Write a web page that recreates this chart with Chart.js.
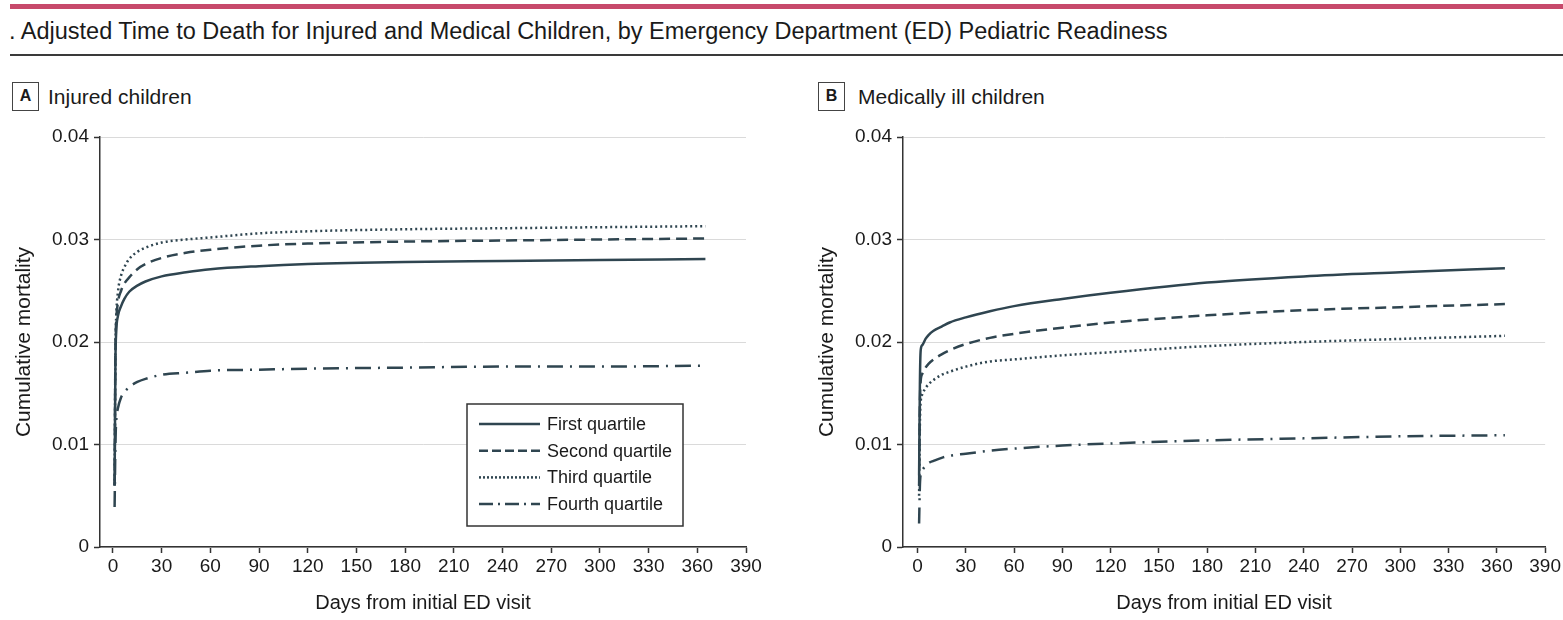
<!DOCTYPE html>
<html>
<head>
<meta charset="utf-8">
<script src="https://cdn.jsdelivr.net/npm/chart.js@4.4.1/dist/chart.umd.min.js"></script>
<style>
  body { margin: 0; width: 1563px; height: 620px; overflow: hidden; background: #fff; position: relative;
         font-family: "Liberation Sans", Arial, sans-serif; color: #1a1a1a; }
  #topbar { position: absolute; left: 10px; top: 4px; width: 1553px; height: 5px; background: #c7496b; }
  #title { position: absolute; left: 9px; top: 17px; font-size: 23.5px; line-height: 28px; white-space: nowrap; }
  #rule { position: absolute; left: 10px; top: 54px; width: 1553px; height: 2px; background: #3a3a3a; }
  .tag { position: absolute; top: 82px; width: 27px; height: 29px; box-sizing: border-box; border: 1.5px solid #444;
         font-weight: bold; font-size: 16px; line-height: 26px; text-align: center; }
  .panel-name { position: absolute; top: 83px; font-size: 21px; line-height: 27px; white-space: nowrap; }
  .chart-box { position: absolute; top: 115px; height: 505px; }
</style>
</head>
<body>
<div id="topbar"></div>
<div id="title">. Adjusted Time to Death for Injured and Medical Children, by Emergency Department (ED) Pediatric Readiness</div>
<div id="rule"></div>

<div class="tag" style="left:12px">A</div>
<div class="panel-name" style="left:48px">Injured children</div>
<div class="tag" style="left:818px">B</div>
<div class="panel-name" style="left:858px">Medically ill children</div>

<div class="chart-box" style="left:0px; width:780px"><canvas id="injured_chart" width="780" height="505"></canvas></div>
<div class="chart-box" style="left:803px; width:760px"><canvas id="medical_chart" width="760" height="505"></canvas></div>

<script>
const days = [1, 1.5, 2, 3, 5, 7, 10, 15, 20, 30, 45, 60, 90, 120, 180, 240, 300, 365];

// panel A - injured children (cumulative mortality)
const injuredQ1 = [0.006, 0.018, 0.021, 0.0225, 0.0235, 0.0242, 0.0249, 0.0255, 0.0259, 0.0264, 0.0268, 0.0271, 0.0274, 0.0276, 0.0278, 0.0279, 0.0280, 0.0281];
const injuredQ2 = [0.006, 0.019, 0.022, 0.0238, 0.0250, 0.0257, 0.0263, 0.0271, 0.0276, 0.0282, 0.0287, 0.0290, 0.0294, 0.0296, 0.0298, 0.0299, 0.0300, 0.0301];
const injuredQ3 = [0.006, 0.019, 0.0225, 0.0248, 0.0265, 0.0273, 0.0281, 0.0288, 0.0292, 0.0297, 0.0300, 0.0302, 0.0306, 0.0308, 0.0310, 0.0311, 0.0312, 0.0313];
const injuredQ4 = [0.0039, 0.010, 0.0123, 0.0135, 0.0146, 0.0151, 0.0156, 0.0161, 0.0164, 0.0168, 0.0170, 0.0172, 0.0173, 0.0174, 0.0175, 0.0176, 0.0176, 0.0177];

// panel B - medically ill children
const medicalQ1 = [0.007, 0.016, 0.0192, 0.0197, 0.0203, 0.0207, 0.0211, 0.0215, 0.0219, 0.0224, 0.0230, 0.0235, 0.0242, 0.0248, 0.0258, 0.0264, 0.0268, 0.0272];
const medicalQ2 = [0.006, 0.014, 0.0162, 0.0169, 0.0175, 0.0179, 0.0183, 0.0188, 0.0192, 0.0198, 0.0204, 0.0208, 0.0214, 0.0219, 0.0226, 0.0231, 0.0234, 0.0237];
const medicalQ3 = [0.005, 0.012, 0.0142, 0.0149, 0.0155, 0.0159, 0.0163, 0.0168, 0.0171, 0.0176, 0.0181, 0.0183, 0.0187, 0.0190, 0.0196, 0.0200, 0.0203, 0.0206];
const medicalQ4 = [0.0023, 0.006, 0.0071, 0.0075, 0.0079, 0.0082, 0.0084, 0.0087, 0.0089, 0.0091, 0.0094, 0.0096, 0.0099, 0.0101, 0.0104, 0.0106, 0.0108, 0.0109];

const quartileLabels = ['First quartile', 'Second quartile', 'Third quartile', 'Fourth quartile'];
const xTicks = [0, 30, 60, 90, 120, 150, 180, 210, 240, 270, 300, 330, 360, 390];
const yTicks = [0, 0.01, 0.02, 0.03, 0.04];

const lineColor = '#2f4550';
const textColor = '#1a1a1a';
const plotDashes = [[], [11, 6], [2, 3], [16, 7, 2, 7]];
const legendDashes = [[], [9, 4], [2, 2], [14, 5, 2, 5]];

Chart.defaults.font.family = '"Liberation Sans", Arial, sans-serif';
Chart.defaults.color = textColor;

// legend box drawn inside the plot area (panel A only)
const boxLegend = {
    id: 'boxLegend',
    afterDraw(chart, args, opts) {
        if (!opts.show) return;
        const ctx = chart.ctx;
        const area = chart.chartArea;
        const left = area.left + 367;
        const top = area.top + 267;
        ctx.save();
        ctx.fillStyle = '#fff';
        ctx.fillRect(left, top, 216, 122);
        ctx.strokeStyle = '#333';
        ctx.lineWidth = 1.5;
        ctx.strokeRect(left, top, 216, 122);
        chart.data.datasets.forEach((ds, i) => {
            const y = top + 20 + i * 26.7;
            ctx.strokeStyle = ds.borderColor;
            ctx.lineWidth = 2.5;
            ctx.setLineDash(legendDashes[i]);
            ctx.beginPath();
            ctx.moveTo(left + 12, y);
            ctx.lineTo(left + 73, y);
            ctx.stroke();
            ctx.setLineDash([]);
            ctx.fillStyle = textColor;
            ctx.font = '18px "Liberation Sans", Arial, sans-serif';
            ctx.textBaseline = 'middle';
            ctx.fillText(ds.label, left + 80, y + 1);
        });
        ctx.restore();
    }
};

function makeDatasets(series) {
    return series.map((values, i) => ({
        label: quartileLabels[i],
        data: days.map((d, k) => ({ x: d, y: values[k] })),
        borderColor: lineColor,
        borderWidth: 2.5,
        borderDash: plotDashes[i],
        pointRadius: 0,
        cubicInterpolationMode: 'monotone',
        fill: false
    }));
}

function panelOptions(xMin, rightPad, showLegend) {
    return {
        responsive: false,
        animation: false,
        layout: { padding: { top: 22, right: rightPad, left: 0, bottom: 0 } },
        plugins: {
            legend: { display: false },
            tooltip: { enabled: false },
            boxLegend: { show: showLegend }
        },
        scales: {
            x: {
                type: 'linear', min: xMin, max: 390,
                afterFit: s => { s.height = 73; },
                afterBuildTicks: s => { s.ticks = xTicks.map(v => ({ value: v })); },
                grid: { drawOnChartArea: false, tickLength: 6, tickColor: '#333', tickWidth: 1.5 },
                border: { color: '#333', width: 1.5 },
                ticks: { font: { size: 19 }, color: textColor, padding: 2, maxRotation: 0, autoSkip: false },
                title: { display: true, text: 'Days from initial ED visit', font: { size: 20 }, color: textColor, padding: { top: 0, bottom: 5 } }
            },
            y: {
                min: 0, max: 0.04,
                afterFit: s => { s.width = 100; },
                afterBuildTicks: s => { s.ticks = yTicks.map(v => ({ value: v })); },
                grid: { color: '#dadada', lineWidth: 1, tickLength: 6, tickColor: '#333', tickWidth: 1.5 },
                border: { color: '#333', width: 1.5 },
                ticks: { font: { size: 19 }, color: textColor, padding: 5, callback: v => v === 0 ? '0' : v.toFixed(2) },
                title: { display: true, text: 'Cumulative mortality', font: { size: 21 }, color: textColor, padding: { top: 12, bottom: 0 } }
            }
        }
    };
}

new Chart(document.getElementById('injured_chart'), {
    type: 'line',
    data: { datasets: makeDatasets([injuredQ1, injuredQ2, injuredQ3, injuredQ4]) },
    options: panelOptions(-8, 34, true),
    plugins: [boxLegend]
});

new Chart(document.getElementById('medical_chart'), {
    type: 'line',
    data: { datasets: makeDatasets([medicalQ1, medicalQ2, medicalQ3, medicalQ4]) },
    options: panelOptions(-9, 13, false),
    plugins: [boxLegend]
});
</script>
</body>
</html>
